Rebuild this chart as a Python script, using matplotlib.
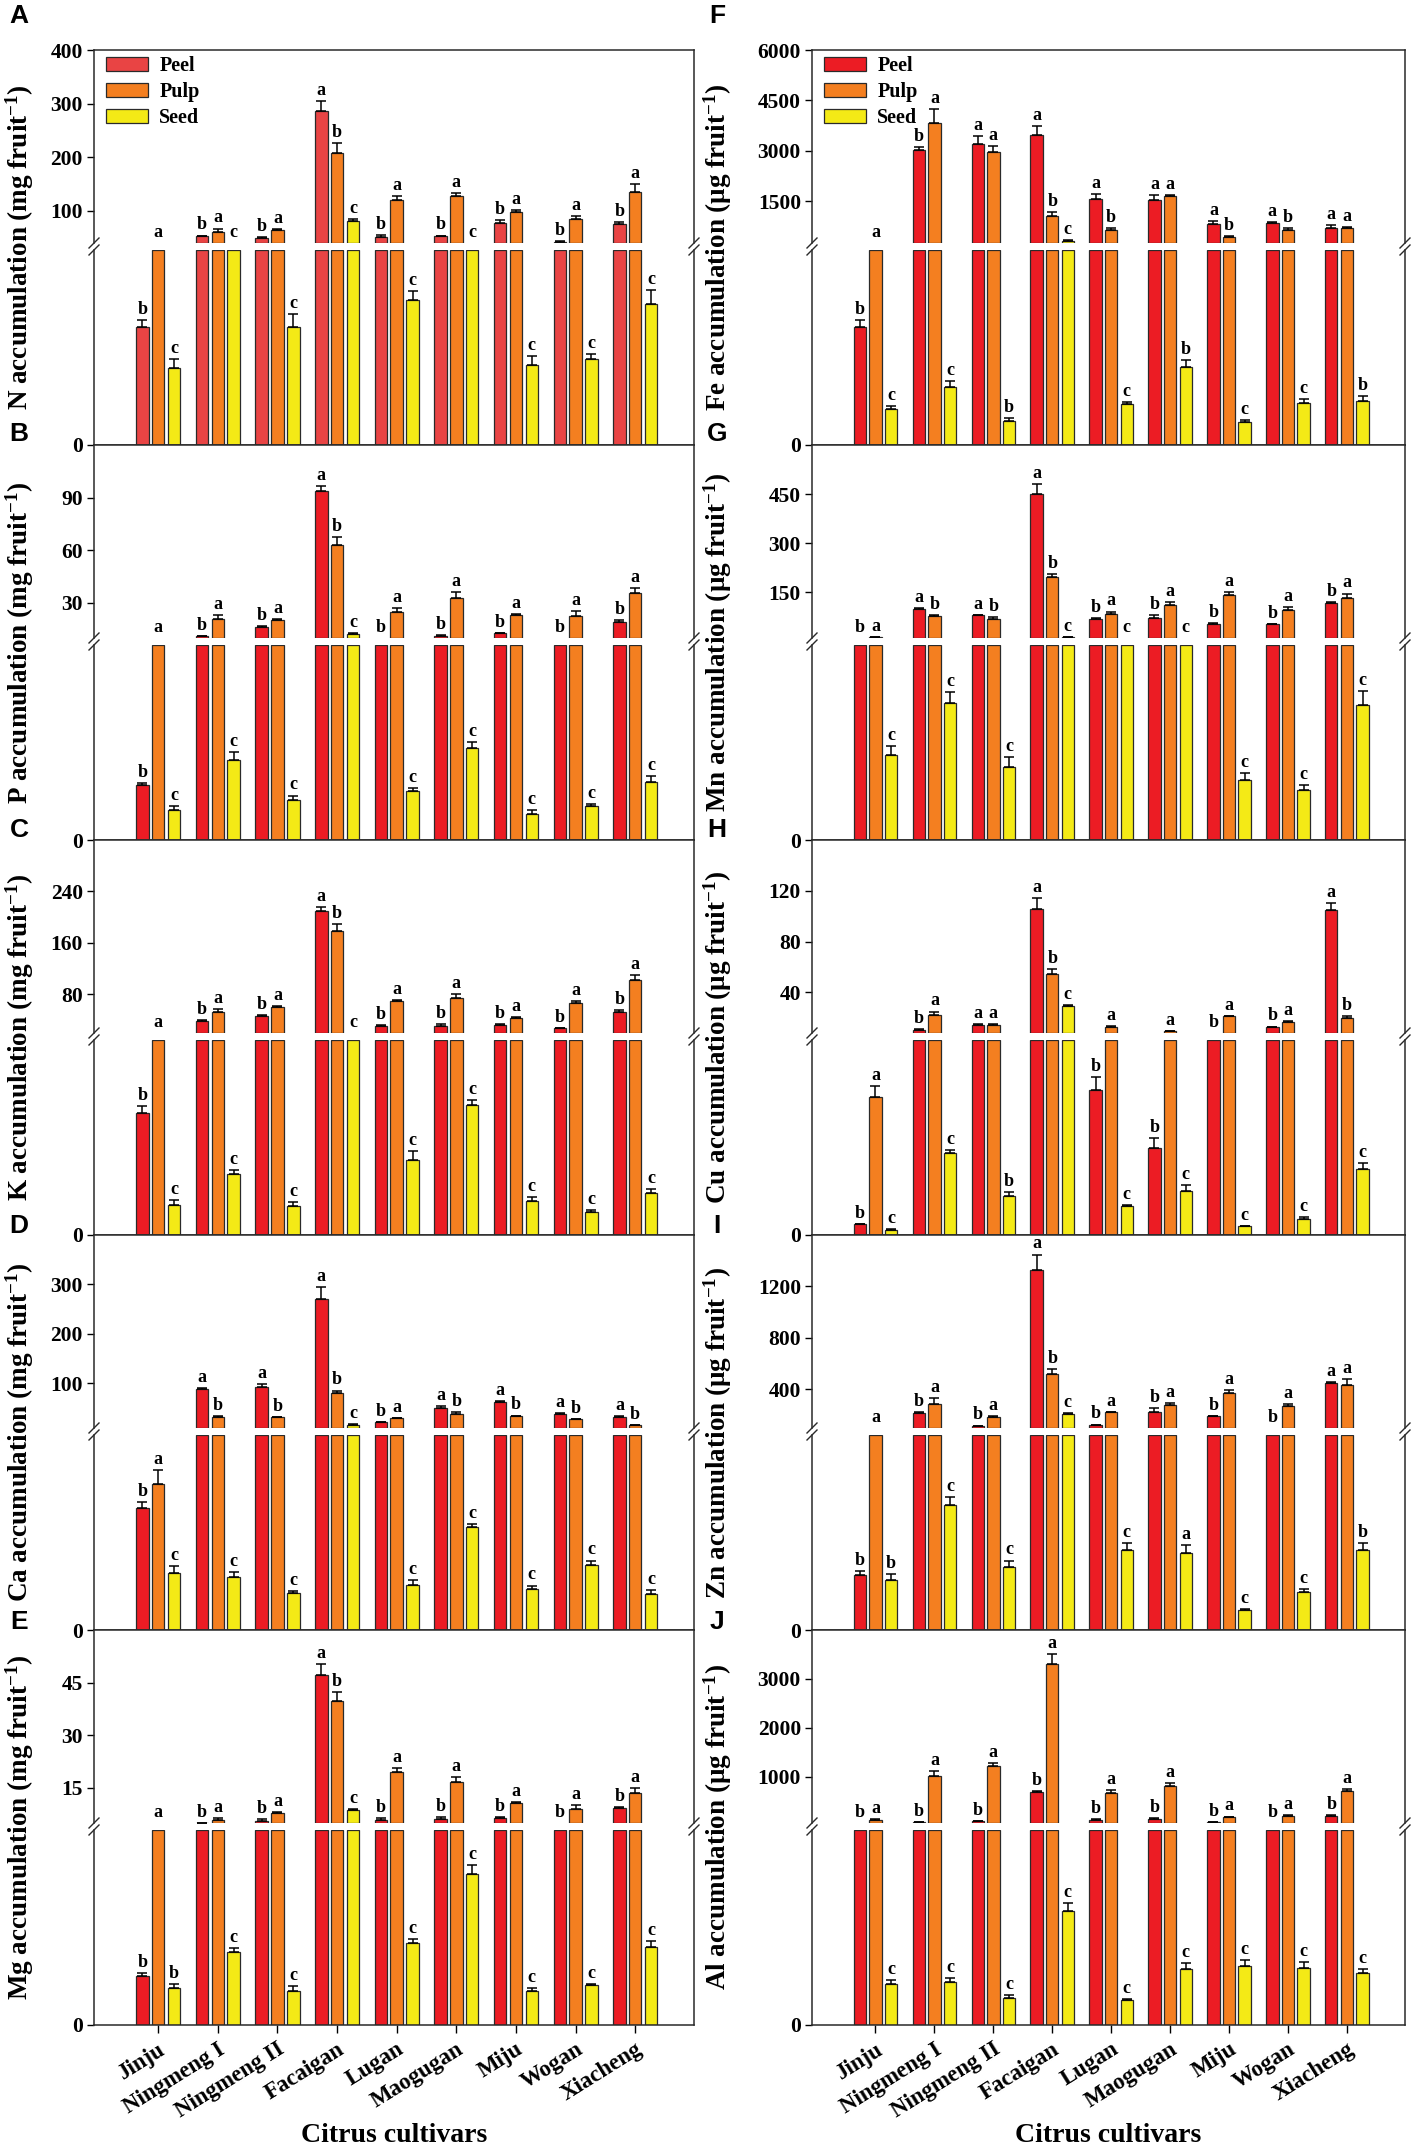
import numpy as np
import matplotlib
matplotlib.use("Agg")
import matplotlib.pyplot as plt
from matplotlib.lines import Line2D
from matplotlib.patches import Patch

# ==========================
# data (lower-section values in units of the broken axis)

CULTIVARS = ["Jinju", "Ningmeng I", "Ningmeng II", "Facaigan", "Lugan",
             "Maogugan", "Miju", "Wogan", "Xiacheng"]
TISSUES = ["Peel", "Pulp", "Seed"]

# A: N (mg fruit-1)
N_PEEL = [12.1, 52.4, 48.7, 287, 50.5, 52.4, 76.5, 42.5, 74.6]
N_PEEL_SE = [0.7, 1.5, 2, 17, 4, 1.5, 7, 0.8, 4]
N_PULP = [30, 61, 64.7, 208, 120, 128, 98, 84.5, 135]
N_PULP_SE = [0, 6, 1, 19, 8, 6, 3, 5, 15]
N_SEED = [7.9, 30, 12.1, 81.4, 14.9, 30, 8.2, 8.8, 14.5]
N_SEED_SE = [0.92, 0, 1.3, 3, 0.85, 0, 0.92, 0.51, 1.44]
N_LET = ["bac", "bac", "bac", "abc", "bac", "bac", "bac", "bac", "bac"]

# B: P (mg fruit-1)
P_PEEL = [1.42, 10.9, 16.1, 93.75, 7.5, 11.4, 12.6, 7.5, 19.3]
P_PEEL_SE = [0.03, 0, 0.9, 3, 0, 0.2, 0.3, 0, 1]
P_PULP = [7.5, 20.6, 20.25, 63, 25, 32.8, 23, 22.7, 35.8]
P_PULP_SE = [0, 2.4, 0.6, 4.5, 2.2, 3.4, 0.4, 2.6, 2.6]
P_SEED = [0.76, 2.05, 1.02, 12.2, 1.25, 2.35, 0.67, 0.88, 1.49]
P_SEED_SE = [0.10, 0.21, 0.12, 0.5, 0.09, 0.17, 0.09, 0.05, 0.14]
P_LET = ["bac", "bac", "bac", "abc", "bac", "bac", "bac", "bac", "bac"]

# C: K (mg fruit-1)
K_PEEL = [6.24, 39.4, 46.6, 209, 31.1, 31.1, 32.7, 27.5, 52.2]
K_PEEL_SE = [0.39, 1, 1, 7, 0.8, 2.5, 1.5, 0.5, 3.6]
K_PULP = [15, 53.2, 61, 179, 69.2, 74.9, 43, 66.6, 102]
K_PULP_SE = [0, 4, 1.5, 11, 1.5, 5.6, 2, 3.6, 7.7]
K_SEED = [1.56, 3.13, 1.50, 15, 3.85, 6.67, 1.73, 1.16, 2.17]
K_SEED_SE = [0.24, 0.22, 0.21, 0, 0.44, 0.27, 0.24, 0.12, 0.19]
K_LET = ["bac", "bac", "bac", "abc", "bac", "bac", "bac", "bac", "bac"]

# D: Ca (mg fruit-1)
CA_PEEL = [3.12, 88, 92.7, 270.7, 21.3, 51.3, 62.7, 39.3, 32.7]
CA_PEEL_SE = [0.17, 2.7, 7, 25, 1, 2.7, 1.3, 1.3, 2]
CA_PULP = [3.74, 32.7, 31.3, 80.7, 30, 38, 34.7, 27.3, 16]
CA_PULP_SE = [0.37, 1, 1, 5, 1, 4.6, 0.5, 1, 0.8]
CA_SEED = [1.47, 1.35, 0.94, 16.7, 1.16, 2.63, 1.05, 1.67, 0.92]
CA_SEED_SE = [0.17, 0.14, 0.07, 0.5, 0.11, 0.09, 0.09, 0.11, 0.11]
CA_LET = ["bac", "abc", "abc", "abc", "bac", "abc", "abc", "abc", "abc"]

# E: Mg (mg fruit-1)
MG_PEEL = [0.75, 5.1, 5.7, 47.1, 5.8, 6.2, 6.5, 4, 9.2]
MG_PEEL_SE = [0.05, 0, 0.3, 3.3, 0.6, 0.4, 0.3, 0, 0.4]
MG_PULP = [4, 5.8, 7.8, 39.9, 19.4, 16.8, 10.8, 9.1, 13.6]
MG_PULP_SE = [0, 0.5, 0.2, 2.4, 1.2, 1.3, 0.3, 1.0, 1.3]
MG_SEED = [0.57, 1.13, 0.52, 8.6, 1.26, 2.33, 0.52, 0.61, 1.20]
MG_SEED_SE = [0.06, 0.06, 0.08, 0.3, 0.06, 0.13, 0.05, 0.02, 0.09]
MG_LET = ["bab", "bac", "bac", "abc", "bac", "bac", "bac", "bac", "bac"]

# F: Fe (ug fruit-1)
FE_PEEL = [121, 3012, 3210, 3460, 1570, 1520, 823, 843, 704]
FE_PEEL_SE = [6.8, 100, 220, 270, 150, 150, 80, 30, 90]
FE_PULP = [225, 3830, 2963, 1052, 644, 1640, 425, 644, 704]
FE_PULP_SE = [0, 400, 180, 120, 50, 40, 30, 40, 20]
FE_SEED = [36.6, 59.8, 24.6, 306, 41.8, 80.4, 23.2, 42.8, 45.2]
FE_SEED_SE = [3.4, 6.2, 3.4, 20, 2.7, 6.8, 2.4, 4.1, 5.1]
FE_LET = ["bac", "bac", "aab", "abc", "abc", "aab", "abc", "abc", "aab"]

# G: Mn (ug fruit-1)
MN_PEEL = [7.5, 97.5, 79, 451, 67, 72, 54, 52, 117.7]
MN_PEEL_SE = [0, 4, 2, 29, 3, 7, 3, 2, 2]
MN_PULP = [13.6, 78, 69, 195.5, 84, 111.6, 140, 94.4, 132]
MN_PULP_SE = [0, 3, 5, 10, 7, 8, 10, 10, 14]
MN_SEED = [2.17, 3.52, 1.86, 13.6, 7.5, 7.5, 1.55, 1.27, 3.47]
MN_SEED_SE = [0.24, 0.28, 0.26, 0, 0, 0, 0.16, 0.13, 0.36]
MN_LET = ["bac", "abc", "abc", "abc", "bac", "bac", "bac", "bac", "bac"]

# H: Cu (ug fruit-1)
CU_PEEL = [0.28, 10.5, 14.5, 106, 3.72, 2.22, 6.5, 12.6, 105]
CU_PEEL_SE = [0.01, 0.5, 0.8, 8, 0.32, 0.26, 0, 0.5, 5]
CU_PULP = [3.53, 22.3, 14.5, 54.3, 12.6, 9.2, 21, 16.3, 19.7]
CU_PULP_SE = [0.3, 2.6, 0.5, 4.4, 0.8, 0.2, 0.5, 1.3, 1.5]
CU_SEED = [0.14, 2.1, 1.01, 29.3, 0.75, 1.14, 0.22, 0.41, 1.68]
CU_SEED_SE = [0.02, 0.07, 0.09, 0.5, 0.02, 0.15, 0.02, 0.06, 0.16]
CU_LET = ["bac", "bac", "aab", "abc", "bac", "bac", "bac", "bac", "abc"]

# I: Zn (ug fruit-1)
ZN_PEEL = [14.1, 213, 119, 1325, 127, 226, 190, 75, 451]
ZN_PEEL_SE = [1.0, 13, 0, 123, 0, 26, 0, 0, 8]
ZN_PULP = [75, 285, 185, 520, 221, 277, 372, 272, 436]
ZN_PULP_SE = [0, 46, 5, 41, 3, 15, 20, 13, 41]
ZN_SEED = [12.8, 32.1, 16.1, 211, 20.5, 19.7, 5.15, 9.85, 20.5]
ZN_SEED_SE = [1.45, 2.1, 1.7, 5, 1.7, 2.1, 0.26, 0.68, 1.7]
ZN_LET = ["bab", "bac", "bac", "abc", "bac", "baa", "bac", "bac", "aab"]

# J: Al (ug fruit-1)
AL_PEEL = [40, 64, 85, 681, 119, 139, 64, 40, 200]
AL_PEEL_SE = [0, 0, 5, 20, 5, 20, 0, 0, 20]
AL_PULP = [119, 1020, 1224, 3305, 661, 803, 173, 200, 702]
AL_PULP_SE = [10, 100, 50, 200, 68, 60, 10, 20, 47]
AL_SEED = [6.33, 6.69, 4.11, 17.6, 3.87, 8.61, 9.03, 8.76, 7.98]
AL_SEED_SE = [0.52, 0.52, 0.52, 1.19, 0.15, 0.93, 0.93, 0.93, 0.62]
AL_LET = ["bac"] * 9

# ==========================

PEEL_RED = "#EC1C24"
PEEL_RED_A = "#E94444"
PULP_ORANGE = "#F47F20"
SEED_YELLOW = "#F4EA16"
EDGE = "#2a2a2a"

W, H = 1414, 2149
COL_X = [(94, 694), (812, 1405)]
ROW_TOP = [50, 445, 840, 1235, 1630]
UP_H, GAP, PANEL_H = 193, 7, 395
LABEL_X = [20, 718]
LETTER_X = [19, 717]
LETTER_Y = [16, 434, 830, 1226, 1622]
BW, STEP = 0.21, 0.265

plt.rcParams["font.family"] = ["Liberation Serif", "DejaVu Serif"]
plt.rcParams["font.weight"] = "bold"
plt.rcParams["mathtext.fontset"] = "custom"
plt.rcParams["mathtext.rm"] = "Liberation Serif:bold"
plt.rcParams["mathtext.bf"] = "Liberation Serif:bold"
plt.rcParams["mathtext.it"] = "Liberation Serif:bold:italic"

fig = plt.figure(figsize=(W / 100, H / 100), dpi=100)
fig.patch.set_facecolor("white")


def px_axes(x0, y0, x1, y1):
    return fig.add_axes([x0 / W, 1 - y1 / H, (x1 - x0) / W, (y1 - y0) / H])


def px_line(xa, ya, xb, yb):
    fig.add_artist(Line2D([xa / W, xb / W], [1 - ya / H, 1 - yb / H],
                          color=EDGE, lw=1.0))


def draw_panel(col, row, letter, element, unit, peel, peel_se, pulp, pulp_se,
               seed, seed_se, letters, low_max, up_lim, up_ticks,
               legend=False, peel_color=PEEL_RED):
    x0, x1 = COL_X[col]
    top = ROW_TOP[row]
    ax_up = px_axes(x0, top, x1, top + UP_H)
    ax_lo = px_axes(x0, top + UP_H + GAP, x1, top + PANEL_H)

    xs = np.arange(1, 10)
    series = [(peel, peel_se, peel_color), (pulp, pulp_se, PULP_ORANGE),
              (seed, seed_se, SEED_YELLOW)]
    for k, (vals, se, color) in enumerate(series):
        vals = np.asarray(vals, float)
        se = np.asarray(se, float)
        xk = xs + (k - 1) * STEP
        ax_lo.bar(xk, np.minimum(vals, low_max), width=BW, color=color,
                  edgecolor=EDGE, linewidth=0.9, zorder=2)
        up = vals > up_lim[0]
        ax_up.bar(xk[up], vals[up] - up_lim[0], bottom=up_lim[0], width=BW,
                  color=color, edgecolor=EDGE, linewidth=0.9, zorder=2)
        lo = vals <= low_max
        ax_lo.errorbar(xk[lo], vals[lo], yerr=[np.zeros(lo.sum()), se[lo]],
                       fmt="none", ecolor="black", elinewidth=1.1,
                       capsize=3.5, capthick=1.1, zorder=3)
        ax_up.errorbar(xk[up], vals[up], yerr=[np.zeros(up.sum()), se[up]],
                       fmt="none", ecolor="black", elinewidth=1.1,
                       capsize=3.5, capthick=1.1, zorder=3)
        for i in range(len(xs)):
            if vals[i] <= low_max:
                ax, y = ax_lo, vals[i] + se[i]
            else:
                ax, y = ax_up, max(vals[i] + se[i], up_lim[0])
            ax.annotate(letters[i][k], (xk[i], y), xytext=(0, 1.5),
                        textcoords="offset points", ha="center", va="bottom",
                        fontsize=13, fontweight="bold", annotation_clip=False,
                        zorder=4)

    for ax in (ax_up, ax_lo):
        ax.set_xlim(-0.077, 9.986)
        for s in ax.spines.values():
            s.set_color(EDGE)
            s.set_linewidth(1.1)
        ax.tick_params(axis="y", direction="out", length=5, width=1.0,
                       labelsize=15.5, pad=3, colors="black")
    ax_up.spines["bottom"].set_visible(False)
    ax_lo.spines["top"].set_visible(False)
    ax_up.set_ylim(*up_lim)
    ax_lo.set_ylim(0, low_max)
    ax_up.set_yticks(up_ticks)
    ax_up.set_yticklabels([str(t) for t in up_ticks])
    ax_lo.set_yticks([0])
    ax_lo.set_yticklabels(["0"])
    ax_up.set_xticks([])

    if row == 4:
        ax_lo.set_xticks(xs)
        ax_lo.set_xticklabels(CULTIVARS, rotation=32, ha="right", va="top",
                              rotation_mode="anchor", fontsize=16.5)
        ax_lo.tick_params(axis="x", direction="out", length=6, width=1.0,
                          pad=4)
        fig.text((x0 + x1) / 2 / W, 1 - 2135 / H, "Citrus cultivars",
                 ha="center", va="center", fontsize=20, fontweight="bold")
    else:
        ax_lo.set_xticks([])

    # break marks on both side spines
    for xsp in (x0, x1):
        for ysp in (top + UP_H, top + UP_H + GAP):
            px_line(xsp - 5, ysp + 5, xsp + 5, ysp - 5)

    label = f"{element} accumulation ({unit} fruit$^{{-1}}$)"
    fig.text(LABEL_X[col] / W, 1 - (top + PANEL_H / 2) / H, label,
             rotation=90, ha="center", va="center", fontsize=19.5,
             fontweight="bold")
    fig.text(LETTER_X[col] / W, 1 - LETTER_Y[row] / H, letter,
             ha="center", va="center", fontsize=19, fontweight="bold",
             family=["Liberation Sans", "DejaVu Sans"])

    if legend:
        handles = [Patch(facecolor=c, edgecolor=EDGE, linewidth=0.9, label=t)
                   for c, t in zip([peel_color, PULP_ORANGE, SEED_YELLOW],
                                   TISSUES)]
        ax_up.legend(handles=handles, loc="upper left",
                     bbox_to_anchor=(12 / (x1 - x0), 1 - 6 / UP_H),
                     frameon=False, fontsize=14.5, handlelength=2.1,
                     handleheight=0.7, labelspacing=0.3, handletextpad=0.55,
                     borderpad=0, borderaxespad=0)


draw_panel(0, 0, "A", "N", "mg", N_PEEL, N_PEEL_SE, N_PULP, N_PULP_SE,
           N_SEED, N_SEED_SE, N_LET, 20, (40, 400), [100, 200, 300, 400],
           legend=True, peel_color=PEEL_RED_A)
draw_panel(0, 1, "B", "P", "mg", P_PEEL, P_PEEL_SE, P_PULP, P_PULP_SE,
           P_SEED, P_SEED_SE, P_LET, 5, (10, 120), [30, 60, 90])
draw_panel(0, 2, "C", "K", "mg", K_PEEL, K_PEEL_SE, K_PULP, K_PULP_SE,
           K_SEED, K_SEED_SE, K_LET, 10, (20, 320), [80, 160, 240])
draw_panel(0, 3, "D", "Ca", "mg", CA_PEEL, CA_PEEL_SE, CA_PULP, CA_PULP_SE,
           CA_SEED, CA_SEED_SE, CA_LET, 5, (10, 400), [100, 200, 300])
draw_panel(0, 4, "E", "Mg", "mg", MG_PEEL, MG_PEEL_SE, MG_PULP, MG_PULP_SE,
           MG_SEED, MG_SEED_SE, MG_LET, 3, (5, 60), [15, 30, 45])
draw_panel(1, 0, "F", "Fe", "μg", FE_PEEL, FE_PEEL_SE, FE_PULP, FE_PULP_SE,
           FE_SEED, FE_SEED_SE, FE_LET, 200, (250, 6000),
           [1500, 3000, 4500, 6000], legend=True)
draw_panel(1, 1, "G", "Mn", "μg", MN_PEEL, MN_PEEL_SE, MN_PULP, MN_PULP_SE,
           MN_SEED, MN_SEED_SE, MN_LET, 5, (10, 600), [150, 300, 450])
draw_panel(1, 2, "H", "Cu", "μg", CU_PEEL, CU_PEEL_SE, CU_PULP, CU_PULP_SE,
           CU_SEED, CU_SEED_SE, CU_LET, 5, (8, 160), [40, 80, 120])
draw_panel(1, 3, "I", "Zn", "μg", ZN_PEEL, ZN_PEEL_SE, ZN_PULP, ZN_PULP_SE,
           ZN_SEED, ZN_SEED_SE, ZN_LET, 50, (100, 1600), [400, 800, 1200])
draw_panel(1, 4, "J", "Al", "μg", AL_PEEL, AL_PEEL_SE, AL_PULP, AL_PULP_SE,
           AL_SEED, AL_SEED_SE, AL_LET, 30, (50, 4000), [1000, 2000, 3000])

fig.savefig("out.png", dpi=100, facecolor="white")
